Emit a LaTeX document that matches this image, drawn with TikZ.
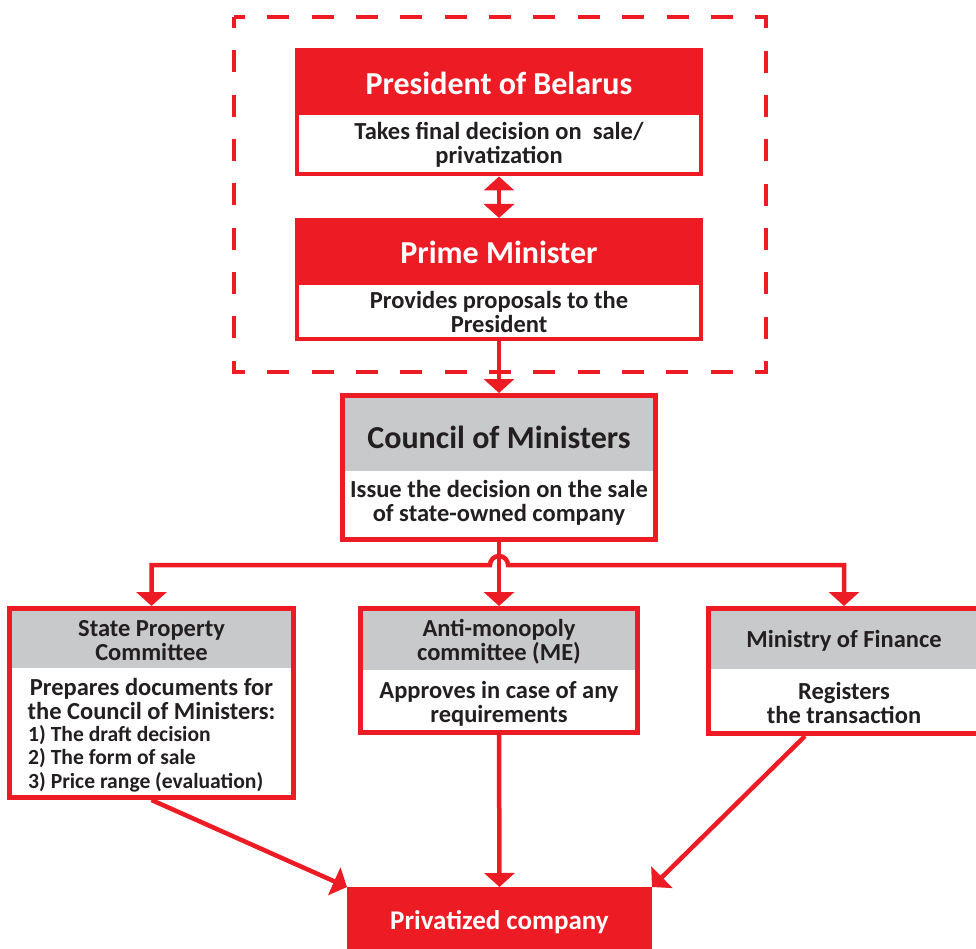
\documentclass[tikz,border=0pt]{standalone}
\usepackage{fontspec}
\setmainfont{Carlito}
\usetikzlibrary{arrows.meta}
\definecolor{cred}{HTML}{ED1C24}
\definecolor{cgray}{HTML}{C8C9CB}
\definecolor{ctext}{HTML}{231F20}
\begin{document}
\begin{tikzpicture}[x=1pt,y=-1pt,
  box/.style={draw=cred, fill=white, line width=#1, inner sep=0pt},
  hdr/.style 2 args={path picture={\fill[#1] (path picture bounding box.north west) rectangle ([yshift=#2]path picture bounding box.north east);}},
  titlefont/.style={font=\fontsize{32}{36}\selectfont\bfseries, inner sep=0pt},
  bodyfont/.style={font=\fontsize{24.5}{24}\selectfont\bfseries, text=ctext, align=center, inner sep=0pt},
  listfont/.style={font=\fontsize{21.6}{23.5}\selectfont\bfseries, text=ctext, align=left, inner sep=0pt},
  conn/.style={draw=cred, line width=4.5pt},
  tip/.tip={Triangle[width=30pt,length=14pt]},
]
\useasboundingbox (0,0) rectangle (976,949);
\clip (0,0) rectangle (976,949);

% dashed group frame
\draw[cred, line width=4pt, dash pattern=on 22pt off 22.35pt, dash phase=11pt] (234,17) rectangle (766,372);

% President
\node[box=4pt, minimum width=404pt, minimum height=124.5pt, hdr={cred}{-65pt}] (pres) at (499,112.25) {};
\node[titlefont, text=white] (pres-t) at (499,83) {President of Belarus};
\node[bodyfont] (pres-b) at (499,145) {Takes final decision on\ \ sale/\\privatization};

% Prime Minister
\node[box=4pt, minimum width=404pt, minimum height=119pt, hdr={cred}{-65pt}] (pm) at (499,279.5) {};
\node[titlefont, text=white] (pm-t) at (499,252) {Prime Minister};
\node[bodyfont] (pm-b) at (499,312) {Provides proposals to the\\President};

% Council of Ministers
\node[box=5pt, minimum width=313pt, minimum height=144pt, hdr={cgray}{-75.5pt}] (council) at (499,467.5) {};
\node[titlefont, text=ctext] (council-t) at (499,437) {Council of Ministers};
\node[bodyfont] (council-b) at (499,503) {Issue the decision on the sale\\of state-owned company};

% State Property Committee
\node[box=5pt, minimum width=284pt, minimum height=189pt, hdr={cgray}{-59.5pt}] (spc) at (151.5,703) {};
\node[bodyfont] (spc-t) at (151.5,641) {State Property\\Committee};
\node[bodyfont] (spc-b) at (151.5,698.5) {Prepares documents for\\the Council of Ministers:};
\node[listfont, anchor=west] (spc-l) at (28,758.5) {1) The draft decision\\2) The form of sale\\3) Price range (evaluation)};

% Anti-monopoly committee
\node[box=5pt, minimum width=277pt, minimum height=124pt, hdr={cgray}{-61.5pt}] (anti) at (499,670.5) {};
\node[bodyfont] (anti-t) at (499,642) {Anti-monopoly\\committee (ME)};
\node[bodyfont] (anti-b) at (499,704) {Approves in case of any\\requirements};

% Ministry of Finance
\node[box=5pt, minimum width=271pt, minimum height=125pt, hdr={cgray}{-60.5pt}] (mof) at (844,671) {};
\node[bodyfont] (mof-t) at (844,641) {Ministry of Finance};
\node[bodyfont] (mof-b) at (844,702.5) {Registers\\the transaction};

% Privatized company
\node[fill=cred, minimum width=305pt, minimum height=70pt, outer sep=0pt, inner sep=0pt,
      text=white, font=\fontsize{27}{30}\selectfont\bfseries] (priv) at (499.5,922) {Privatized company};

% connectors
\coordinate (bus) at (499,565);
\draw[conn, {tip}-{tip}] (pres.south) -- (pm.north);
\draw[conn, -{tip}] (pm.south) -- (council.north);
\draw[conn, -{tip}] (council.south) -- (anti.north);
\draw[conn, {tip}-{tip}] (spc.north) -- (spc.north |- bus) -- ([xshift=-9pt]bus)
   arc[start angle=180, end angle=360, radius=9] -- (mof.north |- bus) -- (mof.north);
\draw[conn, -{tip}] (spc.south) -- (priv.north west);
\draw[conn, -{tip}] (anti.south) -- (priv.north);
\draw[conn, -{tip}] ([xshift=-39pt]mof.south) -- (priv.north east);
\end{tikzpicture}
\end{document}
